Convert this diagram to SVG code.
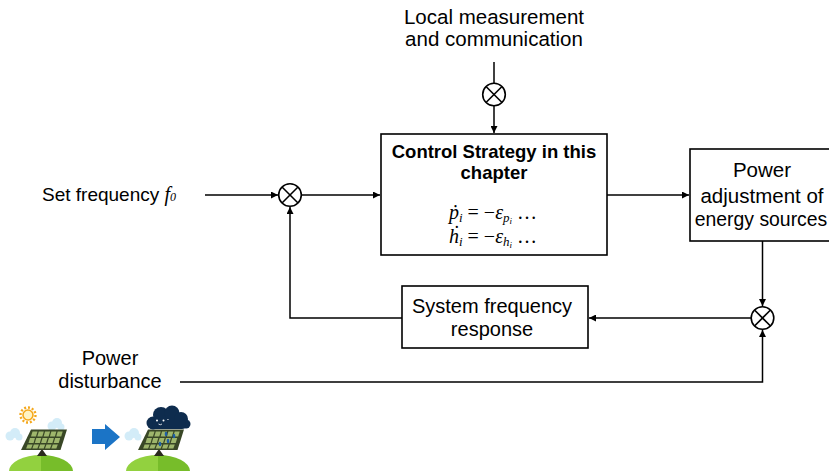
<svg xmlns="http://www.w3.org/2000/svg" xmlns:xlink="http://www.w3.org/1999/xlink" width="829" height="473" viewBox="0 0 829 473">
  <style>
    .lbl { font-family: "Liberation Sans", Arial, sans-serif; font-size: 20px; fill: #000; }
    .ttl { font-family: "Liberation Sans", Arial, sans-serif; font-size: 18.5px; font-weight: bold; fill: #000; }
    .math { font-family: "Liberation Serif", "DejaVu Serif", serif; font-size: 20px; fill: #000; }
    .it { font-style: italic; }
    .box { fill: #fff; stroke: #000; stroke-width: 1.6; }
    .wire { fill: none; stroke: #000; stroke-width: 1.5; }
    .sum circle { fill: #fff; stroke: #000; stroke-width: 1.6; }
    .sum line { stroke: #000; stroke-width: 1.6; }
  </style>
  <defs>
    <marker id="arr" viewBox="0 0 10 10" refX="10" refY="5" markerWidth="7" markerHeight="7" markerUnits="userSpaceOnUse" orient="auto">
      <path d="M0,0 L10,5 L0,10 z" fill="#000"/>
    </marker>
    <!-- tilted photovoltaic panel standing on a green hill -->
    <g id="pv">
      <path d="M9,471 A32,16 0 0 1 41,455 L41,471 Z" fill="#92D13F"/>
      <path d="M41,455 A32,16 0 0 1 73,471 L41,471 Z" fill="#77BD2A"/>
      <path d="M37,456 L42,449 L47,456 Z" fill="#2A2A1E"/>
      <path d="M31,429.5 L67,429.5 L60.5,450 L21,450 Z" fill="#394726"/>
      <g fill="#9EB66C">
        <path d="M32.5,431.5 L37.5,431.5 L36,436.5 L31,436.5 Z"/>
        <path d="M38.8,431.5 L43.8,431.5 L42.3,436.5 L37.3,436.5 Z"/>
        <path d="M45.1,431.5 L50.1,431.5 L48.6,436.5 L43.6,436.5 Z"/>
        <path d="M51.4,431.5 L56.4,431.5 L54.9,436.5 L49.9,436.5 Z"/>
        <path d="M57.7,431.5 L62.7,431.5 L61.2,436.5 L56.2,436.5 Z"/>
        <path d="M30,438 L35,438 L33.5,443 L28.5,443 Z"/>
        <path d="M36.3,438 L41.3,438 L39.8,443 L34.8,443 Z"/>
        <path d="M42.6,438 L47.6,438 L46.1,443 L41.1,443 Z"/>
        <path d="M48.9,438 L53.9,438 L52.4,443 L47.4,443 Z"/>
        <path d="M55.2,438 L60.2,438 L58.7,443 L53.7,443 Z"/>
        <path d="M27.6,444.5 L32.6,444.5 L31.1,448.5 L26.1,448.5 Z"/>
        <path d="M33.9,444.5 L38.9,444.5 L37.4,448.5 L32.4,448.5 Z"/>
        <path d="M40.2,444.5 L45.2,444.5 L43.7,448.5 L38.7,448.5 Z"/>
        <path d="M46.5,444.5 L51.5,444.5 L50,448.5 L45,448.5 Z"/>
        <path d="M52.8,444.5 L57.8,444.5 L56.3,448.5 L51.3,448.5 Z"/>
      </g>
    </g>
    <g id="puff">
      <circle cx="0" cy="0" r="4.5"/>
      <circle cx="5" cy="-3" r="5"/>
      <circle cx="9" cy="1" r="3.5"/>
    </g>
  </defs>

  <!-- connectors -->
  <g id="connectors">
    <line class="wire" x1="494" y1="62" x2="494" y2="83"/>
    <line class="wire" x1="494" y1="106" x2="494" y2="133" marker-end="url(#arr)"/>
    <line class="wire" x1="205" y1="195" x2="278" y2="195" marker-end="url(#arr)"/>
    <line class="wire" x1="301.5" y1="195" x2="380" y2="195" marker-end="url(#arr)"/>
    <line class="wire" x1="607" y1="195" x2="689" y2="195" marker-end="url(#arr)"/>
    <line class="wire" x1="762.5" y1="241" x2="762.5" y2="306" marker-end="url(#arr)"/>
    <line class="wire" x1="751" y1="318" x2="589" y2="318" marker-end="url(#arr)"/>
    <polyline class="wire" points="402,318 290,318 290,207" marker-end="url(#arr)"/>
    <polyline class="wire" points="180,382 762.5,382 762.5,330" marker-end="url(#arr)"/>
  </g>

  <!-- summing junctions -->
  <g id="sum-top" class="sum">
    <circle cx="494" cy="94.5" r="11.3"/>
    <line x1="486" y1="86.5" x2="502" y2="102.5"/>
    <line x1="502" y1="86.5" x2="486" y2="102.5"/>
  </g>
  <g id="sum-left" class="sum">
    <circle cx="290" cy="195" r="11.3"/>
    <line x1="282" y1="187" x2="298" y2="203"/>
    <line x1="298" y1="187" x2="282" y2="203"/>
  </g>
  <g id="sum-right" class="sum">
    <circle cx="762.5" cy="318" r="11.3"/>
    <line x1="754.5" y1="310" x2="770.5" y2="326"/>
    <line x1="770.5" y1="310" x2="754.5" y2="326"/>
  </g>

  <!-- inputs -->
  <g id="local-measurement">
    <text class="lbl" x="494" y="24" text-anchor="middle" style="font-size:20.5px">Local measurement</text>
    <text class="lbl" x="494" y="46" text-anchor="middle" style="font-size:20.5px">and communication</text>
  </g>
  <g id="set-frequency">
    <text class="lbl" x="42" y="201" style="font-size:19px">Set frequency <tspan style="font-family:'Liberation Serif','DejaVu Serif',serif;font-style:italic;font-size:20px">f</tspan><tspan style="font-family:'Liberation Serif','DejaVu Serif',serif;font-style:italic;font-size:12px">0</tspan></text>
  </g>
  <g id="power-disturbance">
    <text class="lbl" x="110" y="365" text-anchor="middle">Power</text>
    <text class="lbl" x="110" y="388" text-anchor="middle">disturbance</text>
  </g>

  <!-- control strategy block -->
  <g id="control-strategy">
    <rect class="box" x="381" y="134" width="226" height="121"/>
    <text class="ttl" x="494" y="158" text-anchor="middle">Control Strategy in this</text>
    <text class="ttl" x="494" y="179" text-anchor="middle">chapter</text>
    <text class="math" x="493" y="219" text-anchor="middle"><tspan class="it">ṗ</tspan><tspan class="it" style="font-size:13px" dy="3">i</tspan><tspan dy="-3"> = −</tspan><tspan class="it">ε</tspan><tspan class="it" style="font-size:13px" dy="3">p</tspan><tspan class="it" style="font-size:9px" dy="2">i</tspan><tspan dy="-5"> …</tspan></text>
    <text class="math" x="493" y="243" text-anchor="middle"><tspan class="it">ḣ</tspan><tspan class="it" style="font-size:13px" dy="3">i</tspan><tspan dy="-3"> = −</tspan><tspan class="it">ε</tspan><tspan class="it" style="font-size:13px" dy="3">h</tspan><tspan class="it" style="font-size:9px" dy="2">i</tspan><tspan dy="-5"> …</tspan></text>
  </g>

  <!-- power adjustment block -->
  <g id="power-adjustment">
    <rect class="box" x="690" y="149" width="146" height="92"/>
    <text class="lbl" x="762" y="177" text-anchor="middle" style="font-size:20.5px">Power</text>
    <text class="lbl" x="762" y="203" text-anchor="middle" style="font-size:20.5px">adjustment of</text>
    <text class="lbl" x="761" y="226" text-anchor="middle" style="font-size:19.4px">energy sources</text>
  </g>

  <!-- system frequency response block -->
  <g id="system-frequency">
    <rect class="box" x="402" y="286" width="186" height="62"/>
    <text class="lbl" x="492" y="313" text-anchor="middle">System frequency</text>
    <text class="lbl" x="492" y="336" text-anchor="middle">response</text>
  </g>

  <!-- sunny panel -->
  <g id="pv-sunny">
    <g fill="#D3ECF8">
      <use xlink:href="#puff" transform="translate(10,436)"/>
      <use xlink:href="#puff" transform="translate(52,426)"/>
    </g>
    <circle cx="28" cy="415" r="7.5" fill="none" stroke="#F4A81D" stroke-width="2.4" stroke-dasharray="2 1.9"/>
    <circle cx="28" cy="415" r="5" fill="#FFF3C4" stroke="#F4A81D" stroke-width="1.6"/>
    <use xlink:href="#pv"/>
  </g>

  <!-- change arrow -->
  <g id="change-arrow">
    <polygon points="92,429 105,429 105,424 120,437 105,450 105,444 92,444" fill="#1B74C6"/>
  </g>

  <!-- clouded panel -->
  <g id="pv-cloudy">
    <g fill="#D3ECF8">
      <use xlink:href="#puff" transform="translate(129,436)"/>
    </g>
    <use xlink:href="#pv" transform="translate(117,0)"/>
    <g fill="#0E2C4E">
      <circle cx="153" cy="423" r="6.5"/>
      <circle cx="161" cy="415" r="8"/>
      <circle cx="172" cy="413" r="7.5"/>
      <circle cx="181" cy="419" r="7"/>
      <circle cx="186" cy="424" r="4.5"/>
      <rect x="152" y="420" width="34" height="9" rx="4"/>
    </g>
    <circle cx="157" cy="420.5" r="1" fill="#fff"/>
    <circle cx="163.5" cy="420.5" r="1" fill="#fff"/>
    <path d="M158.5,424 Q160.3,425.5 162,424" fill="none" stroke="#fff" stroke-width="0.8"/>
    <g fill="#1F5FA6">
      <ellipse cx="166" cy="434" rx="1.3" ry="2.2"/>
      <ellipse cx="168" cy="441" rx="1.3" ry="2.2"/>
      <ellipse cx="160" cy="444" rx="1.3" ry="2.2"/>
      <ellipse cx="174" cy="436" rx="1.3" ry="2.2"/>
    </g>
  </g>
</svg>
